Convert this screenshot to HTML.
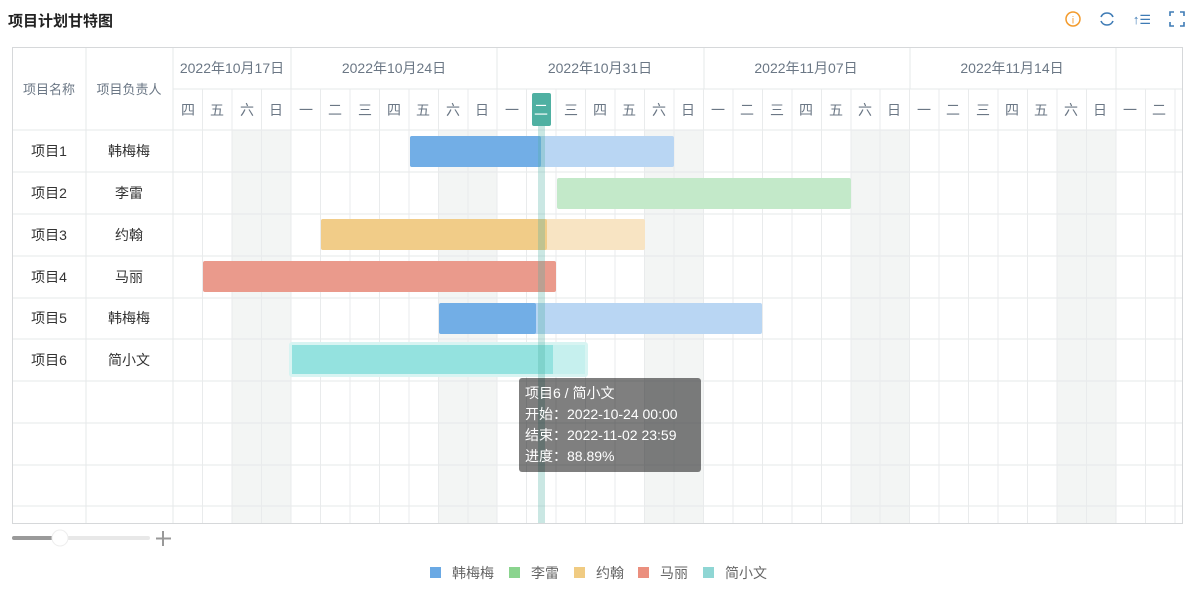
<!DOCTYPE html>
<html><head><meta charset="utf-8"><style>
body{margin:0;background:#fff;font-family:"Liberation Sans","Noto Sans CJK SC",sans-serif;}
svg text{font-family:"Liberation Sans","Noto Sans CJK SC",sans-serif;}
</style></head><body>
<svg width="1200" height="609" xmlns="http://www.w3.org/2000/svg">
<text x="8" y="26" font-size="15" font-weight="bold" fill="#222">项目计划甘特图</text>
<circle cx="1073" cy="19" r="7" fill="none" stroke="#f39a2b" stroke-width="1.5"/>
<text x="1073" y="23.5" font-size="10" fill="#f39a2b" text-anchor="middle">i</text>
<path d="M1101 17 A6.5 6.5 0 0 1 1113 17 M1113 21 A6.5 6.5 0 0 1 1101 21" fill="none" stroke="#3e7bb5" stroke-width="1.6"/>
<text x="1142" y="24" font-size="13" fill="#3e7bb5" text-anchor="middle">↑☰</text>
<path d="M1170 16v-4h4 M1180 12h4v4 M1184 22v4h-4 M1174 26h-4v-4" fill="none" stroke="#3e7bb5" stroke-width="1.6"/>
<g fill="#f3f5f4">
<rect x="232" y="130" width="59" height="393"/><rect x="438" y="130" width="59" height="393"/>
<rect x="645" y="130" width="59" height="393"/><rect x="851" y="130" width="59" height="393"/>
<rect x="1057" y="130" width="59" height="393"/>
</g>
<g stroke="#e6e8ea" stroke-width="1">
<line x1="12" y1="130" x2="1183" y2="130"/><line x1="12" y1="172" x2="1183" y2="172"/>
<line x1="12" y1="214" x2="1183" y2="214"/><line x1="12" y1="256" x2="1183" y2="256"/>
<line x1="12" y1="298" x2="1183" y2="298"/><line x1="12" y1="339" x2="1183" y2="339"/>
<line x1="12" y1="381" x2="1183" y2="381"/><line x1="12" y1="423" x2="1183" y2="423"/>
<line x1="12" y1="465" x2="1183" y2="465"/><line x1="12" y1="506" x2="1183" y2="506"/>
<line x1="173" y1="89" x2="1183" y2="89"/>
<line x1="86" y1="47" x2="86" y2="523"/><line x1="173" y1="47" x2="173" y2="523"/>
<line x1="291" y1="47" x2="291" y2="89"/><line x1="497" y1="47" x2="497" y2="89"/>
<line x1="704" y1="47" x2="704" y2="89"/><line x1="910" y1="47" x2="910" y2="89"/>
<line x1="1116" y1="47" x2="1116" y2="89"/>
</g>
<g stroke="#e9ebec" stroke-width="1">
<line x1="202.5" y1="89" x2="202.5" y2="523"/><line x1="232" y1="89" x2="232" y2="523"/><line x1="261.5" y1="89" x2="261.5" y2="523"/><line x1="291" y1="89" x2="291" y2="523"/>
<line x1="320.5" y1="89" x2="320.5" y2="523"/><line x1="350" y1="89" x2="350" y2="523"/><line x1="379.5" y1="89" x2="379.5" y2="523"/><line x1="409" y1="89" x2="409" y2="523"/>
<line x1="438.5" y1="89" x2="438.5" y2="523"/><line x1="468" y1="89" x2="468" y2="523"/><line x1="497" y1="89" x2="497" y2="523"/><line x1="526.5" y1="89" x2="526.5" y2="523"/>
<line x1="556" y1="89" x2="556" y2="523"/><line x1="585.5" y1="89" x2="585.5" y2="523"/><line x1="615" y1="89" x2="615" y2="523"/><line x1="644.5" y1="89" x2="644.5" y2="523"/>
<line x1="674" y1="89" x2="674" y2="523"/><line x1="703.5" y1="89" x2="703.5" y2="523"/><line x1="733" y1="89" x2="733" y2="523"/><line x1="762.5" y1="89" x2="762.5" y2="523"/>
<line x1="792" y1="89" x2="792" y2="523"/><line x1="821.5" y1="89" x2="821.5" y2="523"/><line x1="851" y1="89" x2="851" y2="523"/><line x1="880" y1="89" x2="880" y2="523"/>
<line x1="909.5" y1="89" x2="909.5" y2="523"/><line x1="939" y1="89" x2="939" y2="523"/><line x1="968.5" y1="89" x2="968.5" y2="523"/><line x1="998" y1="89" x2="998" y2="523"/>
<line x1="1027.5" y1="89" x2="1027.5" y2="523"/><line x1="1057" y1="89" x2="1057" y2="523"/><line x1="1086.5" y1="89" x2="1086.5" y2="523"/><line x1="1116" y1="89" x2="1116" y2="523"/>
<line x1="1145.5" y1="89" x2="1145.5" y2="523"/><line x1="1175" y1="89" x2="1175" y2="523"/>
</g>
<rect x="12.5" y="47.5" width="1170" height="476" fill="none" stroke="#d6d8da"/>
<g font-size="14" fill="#6b7785" text-anchor="middle">
<text x="49" y="94" font-size="13">项目名称</text><text x="129" y="94" font-size="13">项目负责人</text>
<text x="232" y="73">2022年10月17日</text><text x="394" y="73">2022年10月24日</text>
<text x="600" y="73">2022年10月31日</text><text x="806" y="73">2022年11月07日</text>
<text x="1012" y="73">2022年11月14日</text>
</g>
<rect x="532" y="93" width="19" height="33" rx="2" fill="#4fb0a2"/>
<g font-size="14" fill="#6b7785" text-anchor="middle">
<text x="188" y="115">四</text><text x="217" y="115">五</text><text x="247" y="115">六</text><text x="276" y="115">日</text>
<text x="306" y="115">一</text><text x="335" y="115">二</text><text x="365" y="115">三</text><text x="394" y="115">四</text><text x="423" y="115">五</text><text x="453" y="115">六</text><text x="482" y="115">日</text>
<text x="512" y="115">一</text><text x="541" y="115" fill="#fff">二</text><text x="571" y="115">三</text><text x="600" y="115">四</text><text x="629" y="115">五</text><text x="659" y="115">六</text><text x="688" y="115">日</text>
<text x="718" y="115">一</text><text x="747" y="115">二</text><text x="777" y="115">三</text><text x="806" y="115">四</text><text x="836" y="115">五</text><text x="865" y="115">六</text><text x="894" y="115">日</text>
<text x="924" y="115">一</text><text x="953" y="115">二</text><text x="983" y="115">三</text><text x="1012" y="115">四</text><text x="1041" y="115">五</text><text x="1071" y="115">六</text><text x="1100" y="115">日</text>
<text x="1130" y="115">一</text><text x="1159" y="115">二</text>
</g>
<g font-size="14" fill="#333" text-anchor="middle">
<text x="49" y="156">项目1</text><text x="129" y="156">韩梅梅</text>
<text x="49" y="198">项目2</text><text x="129" y="198">李雷</text>
<text x="49" y="240">项目3</text><text x="129" y="240">约翰</text>
<text x="49" y="282">项目4</text><text x="129" y="282">马丽</text>
<text x="49" y="323">项目5</text><text x="129" y="323">韩梅梅</text>
<text x="49" y="365">项目6</text><text x="129" y="365">简小文</text>
</g>
<rect x="410" y="136" width="264" height="31" rx="2" fill="#b9d6f3"/>
<rect x="410" y="136" width="131" height="31" rx="2" fill="#72aee6"/>
<rect x="557" y="178" width="294" height="31" rx="2" fill="#c3e9c9"/>
<rect x="321" y="219" width="324" height="31" rx="2" fill="#f8e4c3"/>
<rect x="321" y="219" width="226" height="31" rx="2" fill="#f1cc88"/>
<rect x="203" y="261" width="353" height="31" rx="2" fill="#ea9a8c"/>
<rect x="439" y="303" width="323" height="31" rx="2" fill="#b9d6f3"/>
<rect x="439" y="303" width="97" height="31" rx="2" fill="#72aee6"/>
<rect x="289" y="342" width="299" height="35" rx="3" fill="#d8f4f2"/>
<rect x="292" y="345" width="293" height="29" fill="#c6f0ee"/>
<rect x="292" y="345" width="261" height="29" fill="#94e2df"/>
<rect x="538" y="126" width="7" height="397" fill="#4fb0a2" opacity="0.3"/>
<rect x="519" y="378" width="182" height="94" rx="3" fill="#000" opacity="0.5"/>
<g font-size="14" fill="#fff">
<text x="525" y="398">项目6 / 简小文</text>
<text x="525" y="419">开始：2022-10-24 00:00</text>
<text x="525" y="440">结束：2022-11-02 23:59</text>
<text x="525" y="461">进度：88.89%</text>
</g>
<rect x="12" y="536" width="138" height="4" rx="2" fill="#e8e8e8"/>
<rect x="12" y="536" width="48" height="4" rx="2" fill="#9a9a9a"/>
<circle cx="60" cy="538" r="8" fill="#fff" stroke="#eee"/>
<path d="M163 531v15M156 538.5h15" stroke="#999" stroke-width="2"/>
<g font-size="14" fill="#666">
<rect x="430" y="567" width="11" height="11" fill="#6aa9e4"/><text x="452" y="578">韩梅梅</text>
<rect x="509" y="567" width="11" height="11" fill="#8ad48e"/><text x="531" y="578">李雷</text>
<rect x="574" y="567" width="11" height="11" fill="#f0cb82"/><text x="596" y="578">约翰</text>
<rect x="638" y="567" width="11" height="11" fill="#eb8f7e"/><text x="660" y="578">马丽</text>
<rect x="703" y="567" width="11" height="11" fill="#8fd6d4"/><text x="725" y="578">简小文</text>
</g>
</svg>
</body></html>
